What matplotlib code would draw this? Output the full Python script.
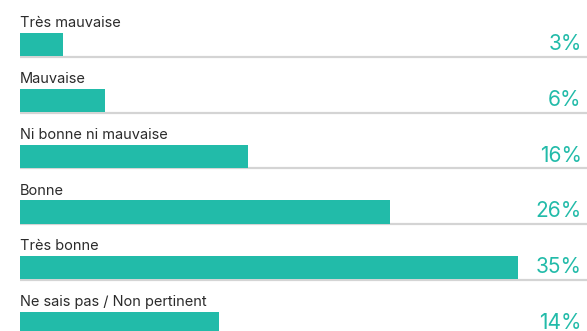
import matplotlib.pyplot as plt
import matplotlib.transforms as mtransforms

categories = ['Très mauvaise', 'Mauvaise', 'Ni bonne ni mauvaise', 'Bonne',
              'Très bonne', 'Ne sais pas / Non pertinent']
values = [3, 6, 16, 26, 35, 14]

teal = '#22bba9'
text_dark = '#2b2b2b'

fig = plt.figure(figsize=(5.87, 3.31), dpi=100)
ax = fig.add_axes([0, 0, 1, 1])

bar_h = 0.418
rows = range(len(categories))

# grey rail under each bar, running to the right edge
for i in rows:
    ax.plot([0, 40], [i + bar_h / 2 + 0.012] * 2, color='#d4d4d4', lw=1.6,
            solid_capstyle='butt', zorder=1)

ax.barh(list(rows), values, height=bar_h, color=teal, zorder=2)

right = mtransforms.blended_transform_factory(ax.transAxes, ax.transData)
for i, (cat, v) in enumerate(zip(categories, values)):
    ax.text(0, i - bar_h / 2 - 0.1, cat, va='baseline', ha='left',
            fontsize=10.5, color=text_dark, family='Inter')
    ax.text(0.991, i + bar_h / 2 - 0.11, f'{v}%', transform=right,
            va='baseline', ha='right', fontsize=15, color=teal,
            family='Inter')

ax.set_xlim(-1.405, 39.84)
ax.set_ylim(5.136, -0.801)
ax.axis('off')

fig.savefig('out.png', dpi=100)
